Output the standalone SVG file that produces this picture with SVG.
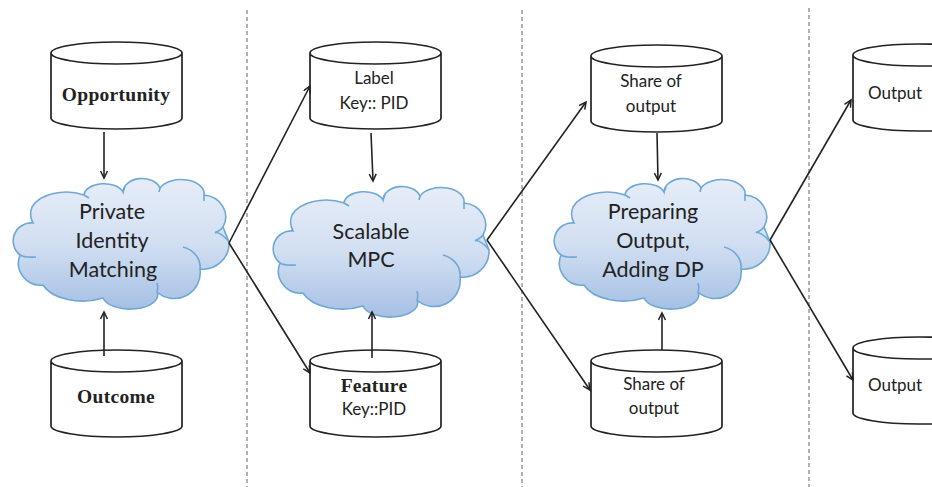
<svg xmlns="http://www.w3.org/2000/svg" width="932" height="487" viewBox="0 0 932 487">
<style>
.sep{stroke:#666;stroke-width:1;stroke-dasharray:4 3;fill:none}
.cyl{fill:#fff;stroke:#222;stroke-width:1.7}
.cl{fill:url(#cg);stroke:#6fa8d6;stroke-width:1.6}
.curl{fill:none;stroke:#6fa8d6;stroke-width:1.6}
.con{stroke:#222;stroke-width:1.6;fill:none;marker-end:url(#ah)}
text{font-family:Lato,"Liberation Sans",sans-serif;fill:#222;text-anchor:middle}
.s{font-size:17px}
.c{font-size:21.500px}
.b{font-family:"Liberation Serif",serif;font-weight:bold;font-size:19.500px;letter-spacing:0.3px}
</style>
<defs>
<linearGradient id="cg" x1="0" y1="0" x2="0" y2="1"><stop offset="0" stop-color="#e6edf8"/><stop offset="0.5" stop-color="#d2dff2"/><stop offset="1" stop-color="#a5c0e4"/></linearGradient>
<marker id="ah" markerWidth="10" markerHeight="10" refX="8" refY="4" orient="auto" markerUnits="userSpaceOnUse"><path d="M1,0.5 L8,4 L1,7.5" fill="none" stroke="#222" stroke-width="1.5"/></marker>
<g id="cloud">
<path class="cl" d="M33,223 A18,18 0 0 0 20,255 A22,22 0 0 0 43,285 A42,24 0 0 0 103,298 A27.500,14 0 0 0 157,292 A26,26 0 0 0 200,269 A26,26 0 0 0 229,242 L223,227 A24,22 0 0 0 204,195 A23,14 0 0 0 160,188 A19,14 0 0 0 123,192 A20,12 0 0 0 84,195 A36,22 0 0 0 32,207 A13,16 0 0 0 33,223Z"/>
<path class="curl" d="M20,255 C25,258 30,257 36,257M157,292 C158,289 158,286 157,283M183,247 C195,250 201,260 200,269M229,242 C226,238 221,233 215,232M223,227 C221,230 218,231 215,233M204,195 L204,201M160,188 L159,192M123,192 L125,187M84,195 L89,198"/>
</g>
<g id="cyl">
<path class="cyl" d="M0,11 V76 C0,82 29,87 65.500,87 C102,87 131,82 131,76 V11 C131,5 102,0 65.500,0 C29,0 0,5 0,11 C0,17 29,22 65.500,22 C102,22 131,17 131,11"/>
</g>
</defs>
<g id="separators">
<line class="sep" x1="247" y1="10" x2="247" y2="487"/>
<line class="sep" x1="522" y1="10" x2="522" y2="487"/>
<line class="sep" x1="809" y1="8" x2="809" y2="487"/>
</g>
<g id="opportunity"><use href="#cyl" x="51" y="42"/><text class="b" x="116" y="101">Opportunity</text></g>
<g id="outcome"><use href="#cyl" x="51" y="350"/><text class="b" x="116" y="403">Outcome</text></g>
<g id="label"><use href="#cyl" x="310" y="42"/><text class="s" x="374" y="84">Label</text><text class="s" x="374" y="109">Key:: PID</text></g>
<g id="feature"><use href="#cyl" x="310" y="350"/><text class="b" x="374" y="392">Feature</text><text class="s" x="374" y="415">Key::PID</text></g>
<g id="share-top"><use href="#cyl" x="591" y="45"/><text class="s" x="651" y="87">Share of</text><text class="s" x="651" y="112">output</text></g>
<g id="share-bottom"><use href="#cyl" x="591" y="350"/><text class="s" x="654" y="390">Share of</text><text class="s" x="654" y="414">output</text></g>
<g id="output-top"><use href="#cyl" x="853" y="44"/><text class="s" x="895" y="99">Output</text></g>
<g id="output-bottom"><use href="#cyl" x="853" y="337"/><text class="s" x="895" y="391">Output</text></g>
<g id="private-identity"><use href="#cloud"/><text class="c" x="112" y="219">Private</text><text class="c" x="112" y="248">Identity</text><text class="c" x="113" y="277">Matching</text></g>
<g id="scalable-mpc"><use href="#cloud" x="260" y="8"/><text class="c" x="371" y="239">Scalable</text><text class="c" x="371" y="267">MPC</text></g>
<g id="preparing-output"><use href="#cloud" x="541"/><text class="c" x="653" y="219">Preparing</text><text class="c" x="653" y="248">Output,</text><text class="c" x="653" y="277">Adding DP</text></g>
<g id="connectors">
<line class="con" x1="104" y1="132" x2="104" y2="178"/>
<line class="con" x1="104" y1="356" x2="104" y2="312"/>
<line class="con" x1="229" y1="243" x2="310" y2="86"/>
<line class="con" x1="229" y1="243" x2="310" y2="373"/>
<line class="con" x1="371" y1="133" x2="373" y2="181"/>
<line class="con" x1="372" y1="358" x2="372" y2="312"/>
<line class="con" x1="487" y1="240" x2="586" y2="102"/>
<line class="con" x1="487" y1="240" x2="590" y2="390"/>
<line class="con" x1="657" y1="133" x2="658" y2="180"/>
<line class="con" x1="662" y1="350" x2="662" y2="313"/>
<line class="con" x1="770" y1="240" x2="851" y2="100"/>
<line class="con" x1="770" y1="240" x2="853" y2="380"/>
</g>
</svg>
